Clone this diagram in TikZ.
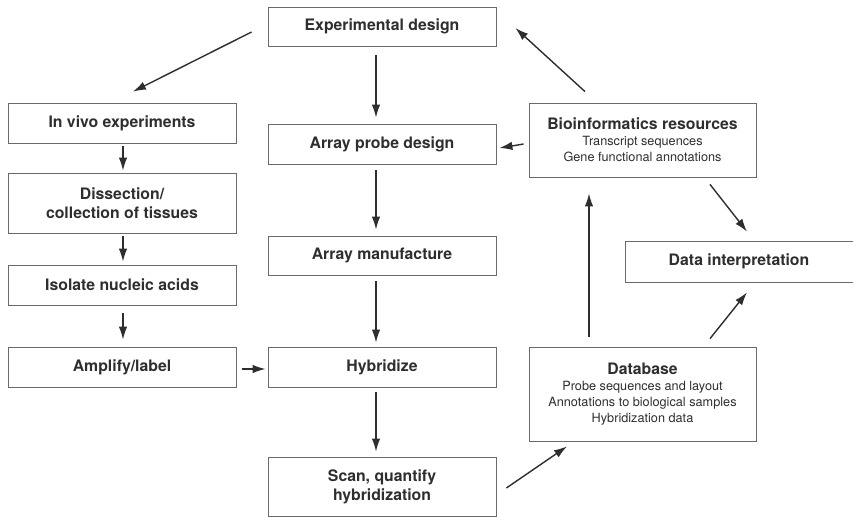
\documentclass[tikz,border=0pt]{standalone}
\usepackage{fontspec}
\setmainfont{TeX Gyre Heros}
\usepackage{tikz}
\usetikzlibrary{arrows.meta}

\definecolor{boxline}{HTML}{6A6A6A}
\definecolor{ink}{HTML}{2E2E2E}

\begin{document}
\begin{tikzpicture}[x=1pt,y=-1pt]

\tikzset{step box/.style = {shape=rectangle,draw=boxline,line width=0.8pt,text=ink,
  minimum width=228pt,align=center,inner sep=0pt,font=\fontsize{15.8}{19}\selectfont\bfseries}}
\tikzset{info box/.style = {step box,minimum width=227pt,font=\fontsize{12.7}{16}\selectfont}}
\tikzset{arc/.style = {-{Latex[length=13pt,width=8.5pt]},draw=ink,line width=1.4pt}}

\useasboundingbox (0,0) rectangle (853,517);

% middle column
\node[step box,minimum height=39pt] (design) at (382,26.5) {Experimental design};
\node[step box,minimum height=40pt] (probe) at (382,144) {Array probe design};
\node[step box,minimum height=39pt] (manuf) at (382,255.5) {Array manufacture};
\node[step box,minimum height=40pt] (hybrid) at (382,367) {Hybridize};
\node[step box,minimum height=59pt] (scan) at (382,486.5) {Scan, quantify\\hybridization};

% left column
\node[step box,minimum height=40pt] (vivo) at (122,123) {In vivo experiments};
\node[step box,minimum height=60pt] (dissect) at (122,203) {Dissection/\\collection of tissues};
\node[step box,minimum height=40pt] (isolate) at (122,285) {Isolate nucleic acids};
\node[step box,minimum height=40pt] (amplify) at (122,367) {Amplify/label};

% right column
\node[info box,minimum height=74pt] (bioinf) at (642.5,140)
  {{\fontsize{15.8}{17}\selectfont\bfseries Bioinformatics resources}\\Transcript sequences\\Gene functional annotations};
\node[step box,minimum height=41pt] (interp) at (739,261.5) {Data interpretation};
\node[info box,minimum height=94pt] (database) at (642.5,394)
  {{\fontsize{15.8}{17}\selectfont\bfseries Database}\\Probe sequences and layout\\Annotations to biological samples\\Hybridization data};

% arcs down the middle
\draw[arc] ([xshift=-6pt,yshift=-9pt]design.south) to ([xshift=-6pt,yshift=6pt]probe.north);
\draw[arc] ([xshift=-6pt,yshift=-6pt]probe.south) to ([xshift=-6pt,yshift=6pt]manuf.north);
\draw[arc] ([xshift=-6pt,yshift=-6pt]manuf.south) to ([xshift=-6pt,yshift=4pt]hybrid.north);
\draw[arc] ([xshift=-6pt,yshift=-5pt]hybrid.south) to ([xshift=-6pt,yshift=5pt]scan.north);

% arcs down the left
\draw[arc] ([xshift=1pt,yshift=-3pt]vivo.south) to ([xshift=1pt,yshift=2pt]dissect.north);
\draw[arc] ([xshift=1pt,yshift=-3pt]dissect.south) to ([xshift=1pt,yshift=3pt]isolate.north);
\draw[arc] ([xshift=1pt,yshift=-8pt]isolate.south) to ([xshift=1pt,yshift=7pt]amplify.north);
\draw[arc] ([xshift=6pt,yshift=-2pt]amplify.east) to ([xshift=-2pt,yshift=-2pt]hybrid.west);

% other arcs
\draw[arc] ([xshift=-16pt,yshift=-5.5pt]design.west) to ([xshift=11pt,yshift=11pt]vivo.north);
\draw[arc] ([xshift=-57.5pt,yshift=11pt]bioinf.north) to ([xshift=19pt,yshift=-1.5pt]design.east);
\draw[arc] ([xshift=-5pt,yshift=-4pt]bioinf.west) to ([xshift=3pt,yshift=-4pt]probe.east);
\draw[arc] ([xshift=67.5pt,yshift=-7pt]bioinf.south) to ([xshift=8pt,yshift=9pt]interp.north);
\draw[arc] ([xshift=-53.5pt,yshift=10pt]database.north) to ([xshift=-53.5pt,yshift=-16pt]bioinf.south);
\draw[arc] ([xshift=67.5pt,yshift=8pt]database.north) to ([xshift=8pt,yshift=-10pt]interp.south);
\draw[arc] ([xshift=10pt,yshift=-1.5pt]scan.east) to ([xshift=-75.5pt,yshift=-5pt]database.south);

\end{tikzpicture}
\end{document}
